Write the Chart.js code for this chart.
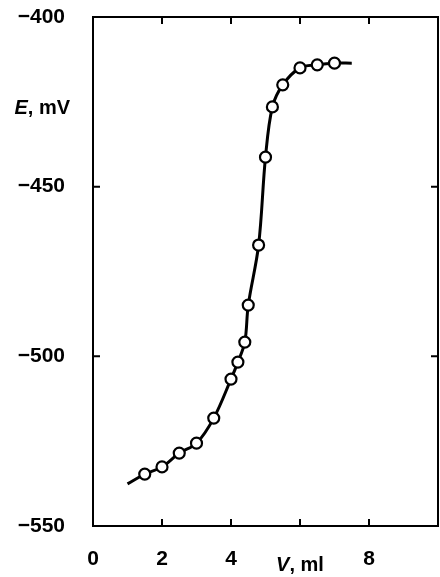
<!DOCTYPE html>
<html>
<head>
<meta charset="utf-8">
<script src="https://cdn.jsdelivr.net/npm/chart.js@4/dist/chart.umd.min.js"></script>
<style>
  html, body { margin:0; padding:0; background:#fff; overflow:hidden; }
  canvas { display:block; }
</style>
</head>
<body>
<canvas id="c" width="440" height="577"></canvas>
<script>
// Measured titration points (V in ml, E in mV)
const volumes = [1.5, 2.0, 2.5, 3.0, 3.5, 4.0, 4.2, 4.4, 4.5, 4.8, 5.0, 5.2, 5.5, 6.0, 6.5, 7.0];
const potentials = [-534.7, -532.6, -528.5, -525.6, -518.2, -506.7, -501.7, -495.8, -484.9, -467.2, -441.3, -426.5, -420.0, -415.0, -414.1, -413.6];
// Ends of the drawn curve beyond the measured points
const curveStart = [1.0, -537.6];
const curveEnd = [7.5, -413.6];
const xTicks = [0, 2, 4, 6, 8, 10];
const xTickLabels = ['0', '2', '4', '', '8', ''];
const yTicks = [-550, -500, -450, -400];
const yTickLabels = ['\u2212550', '\u2212500', '\u2212450', '\u2212400'];
const xTitle = ['V', ', ml'];
const yTitle = ['E', ', mV'];

const pts = volumes.map((v, i) => ({x: v, y: potentials[i]}));
const curve = [{x: curveStart[0], y: curveStart[1]}, ...pts, {x: curveEnd[0], y: curveEnd[1]}];

const FONT = 'Liberation Sans, Arial, sans-serif';

function fit(size, dim) {
  return s => {
    s[dim] = size;
    s.paddingTop = 0; s.paddingBottom = 0; s.paddingLeft = 0; s.paddingRight = 0;
  };
}

const decor = {
  id: 'decor',
  afterDraw(chart) {
    const ctx = chart.ctx;
    const xs = chart.scales.x, ys = chart.scales.y;
    const a = chart.chartArea;
    const L = 7;
    ctx.save();
    ctx.strokeStyle = '#000';
    ctx.lineWidth = 2;
    ctx.beginPath();
    [2, 4, 6, 8].forEach(v => {
      const px = xs.getPixelForValue(v);
      ctx.moveTo(px, a.top); ctx.lineTo(px, a.top + L);
      ctx.moveTo(px, a.bottom); ctx.lineTo(px, a.bottom - L);
    });
    [-450, -500].forEach(v => {
      const py = ys.getPixelForValue(v);
      ctx.moveTo(a.left, py); ctx.lineTo(a.left + L, py);
      ctx.moveTo(a.right, py); ctx.lineTo(a.right - L, py);
    });
    ctx.stroke();

    ctx.fillStyle = '#000';
    ctx.textBaseline = 'middle';
    // y title
    const yt = ys.getPixelForValue(-427);
    ctx.font = 'italic bold 20px ' + FONT;
    const w1 = ctx.measureText(yTitle[0]).width;
    ctx.font = 'bold 20px ' + FONT;
    const w2 = ctx.measureText(yTitle[1]).width;
    let x0 = 70 - w1 - w2;
    ctx.font = 'italic bold 20px ' + FONT;
    ctx.textAlign = 'left';
    ctx.fillText(yTitle[0], x0, yt);
    ctx.font = 'bold 20px ' + FONT;
    ctx.fillText(yTitle[1], x0 + w1, yt);
    // x title
    const xt = xs.getPixelForValue(6);
    ctx.font = 'italic bold 20px ' + FONT;
    const v1 = ctx.measureText(xTitle[0]).width;
    ctx.font = 'bold 20px ' + FONT;
    const v2 = ctx.measureText(xTitle[1]).width;
    let xx = xt - (v1 + v2) / 2;
    ctx.font = 'italic bold 20px ' + FONT;
    ctx.fillText(xTitle[0], xx, 565);
    ctx.font = 'bold 20px ' + FONT;
    ctx.fillText(xTitle[1], xx + v1, 565);
    ctx.restore();
  }
};

new Chart(document.getElementById('c'), {
  type: 'scatter',
  data: {
    datasets: [
      {
        data: pts,
        showLine: false,
        pointRadius: 5.5,
        pointBorderWidth: 2.2,
        pointBorderColor: '#000',
        pointBackgroundColor: '#fff',
        order: 0
      },
      {
        data: curve,
        showLine: true,
        borderColor: '#000',
        borderWidth: 3,
        pointRadius: 0,
        tension: 0.35,
        fill: false,
        order: 1
      }
    ]
  },
  options: {
    responsive: false,
    maintainAspectRatio: false,
    devicePixelRatio: 1,
    animation: false,
    events: [],
    layout: { padding: 0, autoPadding: false },
    plugins: { legend: { display: false }, tooltip: { enabled: false } },
    scales: {
      x: {
        type: 'linear', position: 'bottom', min: 0, max: 10,
        afterBuildTicks: s => { s.ticks = xTicks.map(v => ({value: v})); },
        ticks: {
          callback: (v) => xTickLabels[xTicks.indexOf(v)] ?? '',
          color: '#000', font: { family: FONT, size: 21, weight: 'bold' },
          padding: 13, maxRotation: 0, autoSkip: false
        },
        grid: { display: false },
        border: { display: true, color: '#000', width: 2 },
        afterFit: fit(51, 'height')
      },
      x2: {
        type: 'linear', position: 'top', min: 0, max: 10,
        ticks: { display: false },
        grid: { display: false },
        border: { display: true, color: '#000', width: 2 },
        afterFit: fit(17, 'height')
      },
      y: {
        type: 'linear', position: 'left', min: -550, max: -400,
        afterBuildTicks: s => { s.ticks = yTicks.map(v => ({value: v})); },
        ticks: {
          callback: (v) => yTickLabels[yTicks.indexOf(v)] ?? '',
          color: '#000', font: { family: FONT, size: 21, weight: 'bold' },
          padding: 20, autoSkip: false
        },
        grid: { display: false },
        border: { display: true, color: '#000', width: 2 },
        afterFit: fit(93, 'width')
      },
      y2: {
        type: 'linear', position: 'right', min: -550, max: -400,
        ticks: { display: false },
        grid: { display: false },
        border: { display: true, color: '#000', width: 2 },
        afterFit: fit(2, 'width')
      }
    }
  },
  plugins: [decor]
});
</script>
</body>
</html>
